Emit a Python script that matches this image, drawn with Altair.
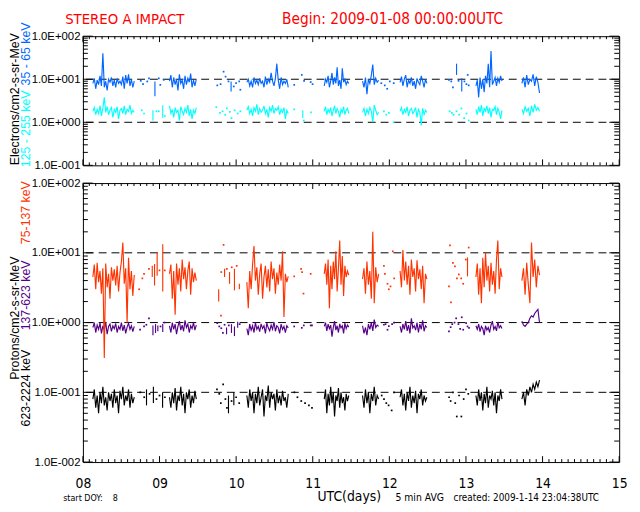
import altair as alt
import pandas as pd

# ------------------------------------------------------------------ data
DAY_TICKS = [8, 9, 10, 11, 12, 13, 14, 15]
TITLE_LEFT = "STEREO A IMPACT"
TITLE_RIGHT = "Begin: 2009-01-08 00:00:00UTC"

# start / end (days of January 2009) of the continuous data stretches
SEG_START = [8.13, 9.13, 10.14, 11.15, 11.65, 12.14, 13.13, 13.73]
SEG_END = [8.67, 9.48, 10.68, 11.47, 11.86, 12.49, 13.47, 13.96]

# Electrons 35-65 keV
BLUE = [
    [8.0, 10.5, 6.0, 9.5, 7.5, 12.0, 7.0, 40.0, 6.5, 9.0, 5.5, 10.0, 8.5, 11.0, 7.0,
     9.5, 6.5, 10.5, 8.0, 9.0, 7.5, 11.5, 6.0, 12.5, 8.0, 13.0, 7.0, 10.0, 6.5, 9.0],
    [9.0, 12.5, 6.5, 11.0, 7.5, 10.0, 5.5, 13.0, 8.0, 9.5, 6.0, 12.0, 7.5, 10.5, 8.5,
     13.5, 6.5, 9.5, 7.0, 10.0],
    [8.5, 10.0, 7.0, 9.0, 6.5, 11.0, 8.0, 9.5, 7.5, 10.5, 8.0, 9.0, 6.5, 11.5, 7.5,
     10.0, 8.5, 14.0, 9.0, 7.0, 10.5, 23.0, 9.5, 6.0, 11.0, 7.5, 9.0, 8.0, 10.0, 6.5],
    [7.0, 10.0, 8.5, 12.0, 6.5, 9.0, 14.0, 7.5, 11.0, 8.0, 19.0, 7.0, 9.5, 6.0, 18.0,
     8.5, 10.0, 7.5, 9.0, 8.0],
    [9.0, 6.5, 11.0, 4.5, 10.0, 8.0, 12.5, 22.0, 7.5, 10.5, 8.5, 9.5],
    [8.5, 11.5, 7.0, 10.0, 12.5, 6.5, 9.5, 8.0, 11.0, 7.0, 9.0, 6.0, 10.5, 8.5, 7.5,
     12.0, 9.0, 6.5, 10.0, 8.0],
    [7.0, 9.5, 3.8, 11.0, 6.0, 10.0, 5.0, 12.0, 8.0, 23.0, 6.5, 45.0, 7.5, 9.0, 11.0,
     7.0, 10.5, 8.5, 12.0, 9.0],
    [8.0, 11.0, 6.5, 12.5, 7.5, 10.0, 9.0, 13.0, 7.0, 11.5, 8.5, 4.8],
]
BLUE_BIT_T = [8.94, 9.934, 12.877, 12.945]
BLUE_BIT_LO = [4.0, 5.2, 12.6, 5.2]
BLUE_BIT_HI = [8.9, 8.9, 23.0, 10.5]
BLUE_DOT_T = [8.755, 8.785, 8.84, 8.862, 8.99, 9.01, 9.055,
              9.754, 9.797, 9.836, 9.862, 9.90, 9.969, 9.999, 10.04, 10.055,
              10.758, 10.857, 10.887, 10.973, 10.998,
              11.895, 11.94, 11.972, 12.006, 12.057,
              12.778, 12.808, 12.83, 12.903, 12.98, 13.006, 13.023, 13.036]
BLUE_DOT_V = [9.2, 7.7, 8.9, 10.5, 10.5, 7.4, 9.7,
              7.2, 7.7, 15.0, 11.5, 8.9, 6.8, 8.1, 8.9, 5.7,
              7.4, 12.6, 9.2, 8.6, 7.7,
              8.1, 7.2, 6.0, 8.9, 8.1,
              9.7, 8.9, 6.5, 9.2, 8.9, 7.7, 12.6, 7.2]

# Electrons 125-255 keV
CYAN = [
    [1.8, 2.2, 1.5, 2.0, 1.6, 2.4, 1.4, 2.1, 3.8, 1.7, 2.3, 1.5, 1.9, 2.2, 1.3,
     2.0, 1.7, 2.3, 1.2, 1.9, 2.1, 1.6, 2.4, 1.5, 2.0, 1.8, 2.5, 1.6, 1.9, 1.7],
    [2.4, 1.6, 2.0, 1.3, 2.2, 1.7, 1.9, 1.1, 2.3, 1.8, 1.5, 2.1, 1.7, 2.5, 1.4,
     2.0, 1.2, 1.9, 1.6, 2.2],
    [1.9, 2.3, 1.6, 2.0, 1.4, 2.2, 1.8, 2.6, 1.5, 2.1, 1.7, 1.9, 2.4, 1.6, 2.0,
     1.3, 2.2, 1.8, 2.5, 1.6, 2.1, 1.9, 2.3, 1.5, 2.0, 1.7, 2.2, 1.2, 1.9, 1.6],
    [1.8, 2.3, 1.5, 2.0, 1.7, 2.2, 1.4, 1.9, 2.4, 1.6, 2.1, 1.8, 1.3, 2.0, 1.7,
     2.3, 1.5, 1.9, 2.1, 1.6],
    [1.7, 2.1, 1.4, 2.0, 1.6, 2.2, 1.8, 1.0, 2.5, 1.9, 1.5, 1.7],
    [1.8, 2.2, 1.5, 2.0, 1.7, 2.3, 1.4, 1.9, 2.1, 1.6, 1.8, 2.2, 1.3, 2.0, 1.7,
     0.85, 2.1, 1.5, 1.9, 1.7],
    [2.0, 1.5, 2.3, 1.7, 2.5, 1.4, 2.1, 1.8, 2.4, 1.6, 2.2, 1.3, 2.0, 1.9, 2.3,
     1.5, 2.1, 1.7, 1.2, 1.9],
    [2.0, 1.6, 2.3, 1.8, 2.1, 1.4, 2.4, 1.7, 2.6, 1.9, 2.2, 1.8],
]
CYAN_BIT_T = [8.914, 9.042, 10.87]
CYAN_BIT_LO = [1.1, 1.25, 1.25]
CYAN_BIT_HI = [1.9, 2.5, 1.9]
CYAN_DOT_T = [8.768, 8.798, 8.96, 8.99, 9.068,
              9.741, 9.788, 9.823, 9.857, 9.879, 9.917, 9.939, 9.981, 10.02, 10.055,
              10.758, 10.883, 10.977,
              11.929, 11.96, 11.994, 12.057,
              12.787, 12.817, 12.839, 12.877, 12.911, 12.941, 12.976, 13.006, 13.036]
CYAN_DOT_V = [1.9, 1.6, 1.8, 1.8, 1.4,
              2.25, 1.66, 1.8, 1.5, 2.1, 1.75, 1.25, 1.9, 1.6, 1.8,
              2.0, 1.1, 1.7,
              1.8, 1.5, 1.66, 1.0,
              1.8, 1.66, 1.5, 1.8, 1.5, 2.1, 1.25, 1.6, 1.1]

# Protons 75-137 keV
ORANGE = [
    [4.5, 6.8, 3.0, 7.2, 3.8, 5.5, 2.6, 6.0, 0.31, 7.0, 3.2, 5.0, 2.2, 6.2, 4.0,
     5.8, 3.4, 6.5, 2.8, 5.2, 7.5, 14.0, 3.6, 6.0, 1.0, 8.5, 3.0, 5.5, 2.4, 4.8],
    [5.0, 6.8, 2.2, 5.5, 1.3, 7.0, 3.5, 6.0, 2.8, 8.0, 4.2, 6.2, 3.0, 5.5, 7.5,
     2.5, 6.0, 3.8, 5.2, 4.0],
    [3.8, 1.6, 5.5, 3.0, 6.8, 12.5, 4.0, 6.2, 2.5, 5.0, 7.0, 2.2, 4.5, 6.5, 3.2,
     5.8, 2.8, 7.5, 4.2, 6.0, 2.6, 5.2, 3.5, 6.8, 4.0, 10.5, 1.2, 5.0, 3.8, 4.6],
    [5.0, 7.0, 3.5, 8.0, 1.6, 6.5, 3.0, 7.5, 4.2, 10.5, 2.8, 6.0, 15.0, 3.5, 9.0,
     2.4, 6.5, 4.5, 5.5, 4.8],
    [4.2, 6.0, 2.6, 7.5, 3.5, 5.5, 2.2, 20.0, 1.9, 6.2, 3.8, 5.0],
    [5.5, 3.2, 11.0, 4.0, 7.5, 3.5, 6.5, 2.5, 8.0, 4.5, 6.0, 2.8, 7.8, 4.2, 5.8,
     3.0, 6.5, 1.9, 5.0, 4.2],
    [4.5, 7.0, 2.5, 6.0, 1.9, 8.5, 3.2, 10.0, 4.0, 6.5, 2.8, 7.2, 3.5, 5.5, 2.6,
     8.0, 15.0, 3.0, 6.0, 4.5],
    [4.0, 6.0, 2.5, 7.2, 3.5, 1.9, 14.0, 4.5, 8.0, 3.2, 6.5, 4.8],
]
ORANGE_BIT_T = [8.905, 8.935, 8.969, 9.042, 9.772, 9.849, 9.914, 9.978, 10.042, 13.02]
ORANGE_BIT_LO = [4.5, 3.4, 4.7, 2.8, 2.0, 4.5, 3.6, 2.9, 3.0, 4.6]
ORANGE_BIT_HI = [6.5, 6.9, 10.2, 13.3, 3.0, 5.9, 5.3, 5.9, 3.6, 8.6]
ORANGE_DOT_T = [8.734, 8.776, 8.798, 8.862, 8.999, 9.068,
                9.802, 9.806, 9.836, 9.879, 9.943, 10.007,
                10.758, 10.848, 10.861, 10.879, 10.973,
                11.929, 11.942, 11.976, 11.993, 12.015, 12.045, 12.063,
                12.778, 12.791, 12.804, 12.83, 12.856, 12.882, 12.907, 12.938, 12.964,
                12.998, 13.036]
ORANGE_DOT_V = [3.0, 4.3, 5.0, 5.9, 5.6, 5.6,
                1.26, 5.3, 13.0, 5.9, 6.2, 6.5,
                4.6, 5.9, 5.3, 2.6, 5.0,
                6.5, 5.0, 3.6, 3.0, 3.3, 10.5, 4.3,
                3.3, 12.8, 1.95, 7.2, 6.4, 4.3, 4.9, 4.3, 3.6,
                8.0, 11.9]

# Protons 137-623 keV
PURPLE = [
    [0.85, 1.0, 0.72, 0.92, 0.8, 0.98, 0.7, 0.9, 0.78, 1.02, 0.68, 0.88, 0.95, 0.75, 0.9,
     0.82, 0.97, 0.72, 0.88, 0.8, 1.0, 0.76, 0.92, 0.7, 0.86, 0.98, 0.8, 0.9, 0.74, 0.88],
    [0.9, 0.72, 1.0, 0.8, 0.95, 0.68, 0.88, 1.05, 0.78, 0.92, 0.75, 1.08, 0.85, 0.95, 0.72,
     0.9, 0.82, 1.0, 0.78, 0.92],
    [0.82, 0.66, 0.95, 0.78, 0.9, 0.72, 1.0, 0.8, 0.88, 0.74, 0.96, 0.82, 0.9, 0.7, 0.98,
     0.84, 0.76, 0.92, 0.8, 1.02, 0.75, 0.9, 0.85, 0.7, 0.95, 0.8, 0.88, 0.72, 0.9, 0.84],
    [0.88, 1.0, 0.76, 0.95, 0.82, 0.92, 0.63, 0.85, 1.05, 0.78, 0.9, 0.72, 0.96, 0.84, 0.9,
     0.7, 0.98, 0.82, 0.92, 0.86],
    [0.9, 0.7, 0.85, 0.66, 0.95, 0.8, 1.0, 0.76, 1.1, 0.85, 0.92, 0.88],
    [0.88, 0.72, 0.95, 0.8, 1.05, 0.76, 0.92, 0.7, 1.15, 0.84, 0.9, 0.78, 1.0, 0.72, 0.95,
     0.8, 1.08, 0.75, 0.9, 0.85],
    [0.9, 0.8, 0.95, 0.74, 0.88, 0.82, 0.66, 0.9, 0.78, 0.85, 0.72, 0.92, 1.05, 0.8, 0.88,
     0.76, 1.02, 0.84, 0.9, 0.82],
    [1.05, 0.92, 0.88, 0.95, 1.0, 1.15, 1.25, 1.2, 1.35, 1.45, 1.55, 1.0],
]
PURPLE_BIT_T = [8.914, 8.948, 8.978, 9.042, 9.875, 9.939, 9.978, 10.02]
PURPLE_BIT_LO = [0.66, 0.71, 0.75, 0.73, 0.68, 0.71, 0.64, 0.84]
PURPLE_BIT_HI = [0.91, 0.95, 0.91, 0.95, 0.85, 0.95, 0.88, 1.03]
PURPLE_DOT_T = [8.746, 8.798, 8.828, 8.862, 9.013, 9.064,
                9.754, 9.78, 9.806, 9.827, 9.849, 9.904, 10.046,
                10.758, 10.857, 10.883, 10.973, 10.99,
                11.929, 11.95, 11.976, 11.993, 12.036, 12.062,
                12.778, 12.8, 12.821, 12.851, 12.872, 12.902, 12.924, 12.945, 12.964,
                13.002, 13.02, 13.04]
PURPLE_DOT_V = [0.79, 0.88, 0.93, 1.15, 0.88, 1.0,
                0.98, 0.88, 0.83, 0.71, 0.93, 0.91, 0.95,
                0.88, 0.84, 0.91, 0.91, 0.91,
                0.93, 0.95, 0.79, 0.89, 0.95, 1.0,
                0.75, 0.86, 0.95, 1.0, 1.15, 0.95, 0.81, 1.19, 0.79,
                0.98, 0.88, 0.84]

# Protons 623-2224 keV
BLACK = [
    [0.08, 0.11, 0.06, 0.09, 0.05, 0.1, 0.07, 0.12, 0.065, 0.085, 0.055, 0.1, 0.075, 0.095, 0.06,
     0.11, 0.07, 0.09, 0.05, 0.105, 0.08, 0.12, 0.065, 0.09, 0.075, 0.11, 0.06, 0.095, 0.07, 0.085],
    [0.085, 0.06, 0.1, 0.07, 0.115, 0.055, 0.09, 0.075, 0.12, 0.065, 0.095, 0.05, 0.1, 0.08, 0.11,
     0.06, 0.09, 0.07, 0.105, 0.08],
    [0.09, 0.06, 0.11, 0.075, 0.1, 0.05, 0.095, 0.07, 0.12, 0.065, 0.085, 0.11, 0.045, 0.09, 0.075,
     0.125, 0.06, 0.1, 0.08, 0.095, 0.055, 0.11, 0.07, 0.09, 0.065, 0.105, 0.075, 0.085, 0.06, 0.095],
    [0.08, 0.11, 0.05, 0.095, 0.065, 0.12, 0.07, 0.1, 0.045, 0.09, 0.075, 0.115, 0.06, 0.1, 0.07,
     0.085, 0.055, 0.095, 0.075, 0.09],
    [0.09, 0.06, 0.11, 0.07, 0.1, 0.05, 0.095, 0.075, 0.12, 0.065, 0.09, 0.08],
    [0.085, 0.11, 0.065, 0.095, 0.055, 0.1, 0.075, 0.12, 0.06, 0.09, 0.07, 0.105, 0.05, 0.095, 0.08,
     0.11, 0.065, 0.09, 0.075, 0.085],
    [0.09, 0.065, 0.11, 0.075, 0.1, 0.055, 0.095, 0.07, 0.12, 0.06, 0.09, 0.08, 0.105, 0.065, 0.1,
     0.05, 0.09, 0.075, 0.11, 0.08],
    [0.08, 0.1, 0.065, 0.11, 0.09, 0.12, 0.1, 0.13, 0.11, 0.14, 0.12, 0.15],
]
BLACK_BIT_T = [8.83, 8.92, 9.04, 9.9, 9.97]
BLACK_BIT_LO = [0.065, 0.07, 0.06, 0.05, 0.065]
BLACK_BIT_HI = [0.11, 0.12, 0.1, 0.09, 0.1]
BLACK_DOT_T = [8.75, 8.8, 8.87, 8.96, 9.0, 9.07,
               9.75, 9.78, 9.8, 9.83, 9.86, 9.88, 9.94, 10.0, 10.04,
               10.76, 10.8, 10.85, 10.9, 10.95, 10.99,
               11.9, 11.93, 11.96, 11.99, 12.03, 12.06,
               12.78, 12.8, 12.83, 12.86, 12.88, 12.91, 12.94, 12.97, 13.0, 13.03]
BLACK_DOT_V = [0.1, 0.085, 0.095, 0.08, 0.09, 0.085,
               0.11, 0.095, 0.07, 0.13, 0.08, 0.06, 0.075, 0.085, 0.07,
               0.1, 0.085, 0.075, 0.07, 0.065, 0.06,
               0.09, 0.08, 0.07, 0.065, 0.055, 0.1,
               0.085, 0.075, 0.1, 0.07, 0.045, 0.09, 0.045, 0.08, 0.11, 0.095]

REF_TOP = [10, 1]
REF_BOTTOM = [10, 1, 0.1]

# ------------------------------------------------------------------ frames
def seg_frame(vals_list):
    rows = []
    for i, vals in enumerate(vals_list):
        t0, t1 = SEG_START[i], SEG_END[i]
        n = len(vals)
        for k, v in enumerate(vals):
            rows.append({"t": t0 + (t1 - t0) * k / (n - 1), "v": v, "seg": i})
    return pd.DataFrame(rows)


def bit_frame(ts, lo, hi):
    rows = []
    for i, (t, a, b) in enumerate(zip(ts, lo, hi)):
        rows.append({"t": t, "v": a, "seg": i})
        rows.append({"t": t, "v": b, "seg": i})
    return pd.DataFrame(rows)


def dot_frame(ts, vs):
    return pd.DataFrame({"t": ts, "v": vs})


# ------------------------------------------------------------------ styling
FONT = "Liberation Sans"
NARROW = "Liberation Sans Narrow, DejaVu Sans Condensed, Liberation Sans"
C_BLUE = "#0066ff"
C_CYAN = "#00ffff"
C_ORANGE = "#ff3300"
C_PURPLE = "#550088"
C_BLACK = "#000000"
C_RED = "#ff0000"

W = 544
H_TOP = 131
H_BOT = 283
LW = 1.15

MINOR_X = [8 + k / 12 for k in range(0, 85) if k % 12 != 0]


def minor_y(lo_exp, hi_exp):
    out = []
    for e in range(lo_exp, hi_exp):
        for m in range(2, 10):
            out.append(round(m * 10 ** e, 6))
    return out


LABEL_EXPR = ("datum.value >= 99 ? '1.0E+002' : datum.value >= 9 ? '1.0E+001' : "
              "datum.value >= 0.9 ? '1.0E+000' : datum.value >= 0.09 ? '1.0E-001' : '1.0E-002'")

XS = alt.Scale(domain=[8, 15], nice=False, zero=False)


def ys(dom):
    return alt.Scale(type="log", domain=dom, nice=False)


def y_label_axis(majors):
    return alt.Axis(orient="left", values=majors, ticks=False, tickSize=0, labels=True,
                    labelExpr=LABEL_EXPR, labelFont=FONT, labelFontSize=11.5,
                    labelPadding=3, labelFlush=False, labelOverlap=False, title=None,
                    domain=False, grid=False, labelColor="black")


X_LABEL_AXIS = alt.Axis(orient="bottom", values=DAY_TICKS, ticks=False, tickSize=0,
                        labels=True, format="02d", labelFont=NARROW, labelFontSize=14,
                        labelPadding=15, labelFlush=False, labelOverlap=False, title=None,
                        domain=False, grid=False, labelColor="black")


class Panel:
    """Holds the shared scale/axis definitions of one panel so every layer agrees."""

    def __init__(self, dom, majors, xaxis):
        self.dom = dom
        self.yaxis = y_label_axis(majors)
        self.xaxis = xaxis

    def X(self):
        return alt.X("t:Q", scale=XS, axis=self.xaxis)

    def Y(self):
        return alt.Y("v:Q", scale=ys(self.dom), axis=self.yaxis)

    def line(self, df, color):
        return alt.Chart(df).mark_line(color=color, strokeWidth=LW).encode(
            x=self.X(), y=self.Y(), detail="seg:N")

    def dots(self, df, color):
        return alt.Chart(df).mark_square(color=color, size=3, opacity=1).encode(
            x=self.X(), y=self.Y())

    def refs(self, levels):
        return alt.Chart(pd.DataFrame({"v": levels})).mark_rule(
            color="black", strokeWidth=1, strokeDash=[8, 5]).encode(y=self.Y())

    def yticks(self, values, length):
        df = pd.DataFrame({"v": values})
        left = alt.Chart(df).mark_rule(color="black", strokeWidth=1).encode(
            y=self.Y(), x=alt.value(0), x2=alt.value(length))
        right = alt.Chart(df).mark_rule(color="black", strokeWidth=1).encode(
            y=self.Y(), x=alt.value(W), x2=alt.value(W - length))
        return [left, right]

    def xticks(self, values, length, height):
        df = pd.DataFrame({"t": values})
        bot = alt.Chart(df).mark_rule(color="black", strokeWidth=1).encode(
            x=self.X(), y=alt.value(height), y2=alt.value(height - length))
        top = alt.Chart(df).mark_rule(color="black", strokeWidth=1).encode(
            x=self.X(), y=alt.value(0), y2=alt.value(length))
        return [bot, top]


ONE = pd.DataFrame({"k": [0]})


def label(text, x, y, color, size, angle=0, align="left", font=FONT):
    return alt.Chart(ONE).mark_text(text=text, color=color, fontSize=size, angle=angle,
                                    align=align, baseline="middle", font=font).encode(
        x=alt.value(x), y=alt.value(y))


NB = "\u00a0"

# ------------------------------------------------------------------ top panel
MAJ_T = [0.1, 1, 10, 100]
PT = Panel([0.1, 100], MAJ_T, None)

top = alt.layer(
    PT.refs(REF_TOP),
    *PT.yticks(MAJ_T, 10),
    *PT.yticks(minor_y(-1, 2), 5),
    *PT.xticks(DAY_TICKS, 6, H_TOP),
    *PT.xticks(MINOR_X, 3, H_TOP),
    PT.line(seg_frame(BLUE), C_BLUE),
    PT.line(seg_frame(CYAN), C_CYAN),
    PT.line(bit_frame(BLUE_BIT_T, BLUE_BIT_LO, BLUE_BIT_HI), C_BLUE),
    PT.line(bit_frame(CYAN_BIT_T, CYAN_BIT_LO, CYAN_BIT_HI), C_CYAN),
    PT.dots(dot_frame(BLUE_DOT_T, BLUE_DOT_V), C_BLUE),
    PT.dots(dot_frame(CYAN_DOT_T, CYAN_DOT_V), C_CYAN),
    label(TITLE_LEFT, -18, -17, C_RED, 15, font=NARROW),
    label(TITLE_RIGHT, 202, -17, C_RED, 15.5, font=NARROW),
    label("Electrons/cm2-s-sr-MeV", -69, 64, "black", 12.5, angle=270, align="center"),
    label("125 - 255 keV", -58, 94, C_CYAN, 12.5, angle=270, align="center"),
    label("35 - 65 keV", -58, 18, C_BLUE, 12.5, angle=270, align="center"),
).properties(width=W, height=H_TOP)

# ------------------------------------------------------------------ bottom panel
MAJ_B = [0.01, 0.1, 1, 10, 100]
PB = Panel([0.01, 100], MAJ_B, X_LABEL_AXIS)

bottom = alt.layer(
    PB.refs(REF_BOTTOM),
    *PB.yticks(MAJ_B, 10),
    *PB.yticks(minor_y(-2, 2), 5),
    *PB.xticks(DAY_TICKS, 6, H_BOT),
    *PB.xticks(MINOR_X, 3, H_BOT),
    PB.line(seg_frame(PURPLE), C_PURPLE),
    PB.line(seg_frame(ORANGE), C_ORANGE),
    PB.line(seg_frame(BLACK), C_BLACK),
    PB.line(bit_frame(ORANGE_BIT_T, ORANGE_BIT_LO, ORANGE_BIT_HI), C_ORANGE),
    PB.line(bit_frame(PURPLE_BIT_T, PURPLE_BIT_LO, PURPLE_BIT_HI), C_PURPLE),
    PB.line(bit_frame(BLACK_BIT_T, BLACK_BIT_LO, BLACK_BIT_HI), C_BLACK),
    PB.dots(dot_frame(ORANGE_DOT_T, ORANGE_DOT_V), C_ORANGE),
    PB.dots(dot_frame(PURPLE_DOT_T, PURPLE_DOT_V), C_PURPLE),
    PB.dots(dot_frame(BLACK_DOT_T, BLACK_DOT_V), C_BLACK),
    label("Protons/cm2-s-sr-MeV", -69, 137, "black", 12.5, angle=270, align="center"),
    label("75-137 keV", -58, 30, C_ORANGE, 12.5, angle=270, align="center"),
    label("137-623 keV", -58, 114, C_PURPLE, 12.5, angle=270, align="center"),
    label("623-2224 keV", -58, 208, C_BLACK, 12.5, angle=270, align="center"),
    label("start DOY:" + NB * 4 + "8", -20, 320, "black", 9, font=NARROW),
    label("UTC(days)", 238, 318, "black", 14, font=NARROW),
    label("5 min AVG", 317, 319, "black", 10.5, font=NARROW),
    label("created: 2009-1-14 23:04:38UTC", 376, 319, "black", 10, font=NARROW),
).properties(width=W, height=H_BOT)

chart = alt.vconcat(top, bottom, spacing=18, bounds="flush").properties(
    padding={"left": 0, "top": 0, "right": 4, "bottom": 0},
    background="white",
).configure_view(stroke="black", strokeWidth=1)

chart.save("out.html", embed_options={"renderer": "svg", "actions": False})
